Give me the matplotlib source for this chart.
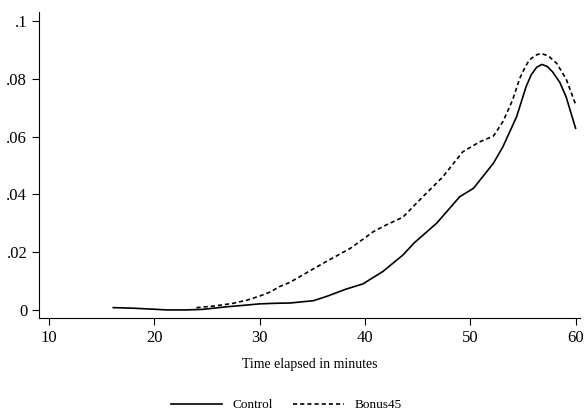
import matplotlib
matplotlib.use('Agg')
import matplotlib.pyplot as plt

plt.rcParams['font.family'] = ['Liberation Serif', 'DejaVu Serif']

# kernel density estimates
control_x = [16.1, 18.0, 20.2, 21.2, 23.0, 24.6, 26.9, 28.5, 30.0, 31.5, 32.9,
             35.1, 36.3, 38.2, 39.8, 41.7, 43.6, 44.7, 46.8, 49.0, 50.3, 52.2,
             53.1, 54.4, 55.3, 55.8, 56.3, 56.8, 57.3, 57.8, 58.5, 59.1, 60.0]
control_y = [0.0008, 0.0006, 0.0002, 0.0000, 0.0000, 0.0002, 0.0011, 0.0016,
             0.0021, 0.0023, 0.0024, 0.0032, 0.0046, 0.0072, 0.0090, 0.0133,
             0.0190, 0.0233, 0.0300, 0.0392, 0.0421, 0.0508, 0.0565, 0.0669,
             0.0773, 0.0815, 0.0840, 0.0850, 0.0843, 0.0825, 0.0788, 0.0738,
             0.0629]

bonus_x = [24.0, 25.8, 27.5, 28.8, 30.0, 31.0, 31.9, 32.9, 33.8, 35.0, 36.3,
           38.6, 40.8, 42.0, 43.6, 45.5, 47.4, 49.3, 50.9, 52.2, 53.1, 54.0,
           54.7, 55.2, 55.6, 56.2, 56.7, 57.4, 58.2, 59.1, 60.0]
bonus_y = [0.0008, 0.0014, 0.0023, 0.0034, 0.0048, 0.0062, 0.0081, 0.0096,
           0.0115, 0.0140, 0.0167, 0.0213, 0.0271, 0.0294, 0.0321, 0.0392,
           0.0461, 0.0548, 0.0582, 0.0602, 0.0652, 0.0725, 0.0802, 0.0840,
           0.0865, 0.0882, 0.0888, 0.0880, 0.0854, 0.0800, 0.0712]

x_ticks = [10, 20, 30, 40, 50, 60]
y_ticks = [0, 0.02, 0.04, 0.06, 0.08, 0.1]
y_labels = ['0', '.02', '.04', '.06', '.08', '.1']

fig = plt.figure(figsize=(5.84, 4.19), dpi=100)
ax = fig.add_axes([0.0668, 0.241, 0.926, 0.730])

ax.plot(control_x, control_y, color='black', lw=1.2, label='Control')
ax.plot(bonus_x, bonus_y, color='black', lw=1.2, ls=(0, (2.5, 1.8)), label='Bonus45')

ax.set_xlim(9.05, 60.4)
ax.set_ylim(-0.0028, 0.1031)
ax.set_xticks(x_ticks)
ax.set_yticks(y_ticks)
ax.set_yticklabels(y_labels)
ax.tick_params(direction='out', length=5, width=0.8, labelsize=12)
for s in ['top', 'right']:
    ax.spines[s].set_visible(False)

ax.set_xlabel('Time elapsed in minutes', fontsize=10, labelpad=9)

fig.legend(loc='lower center', bbox_to_anchor=(0.49, -0.01), ncol=2,
           frameon=False, fontsize=9.5, handlelength=3.9, columnspacing=1.5)

fig.savefig('out.png', dpi=100, facecolor='white')
